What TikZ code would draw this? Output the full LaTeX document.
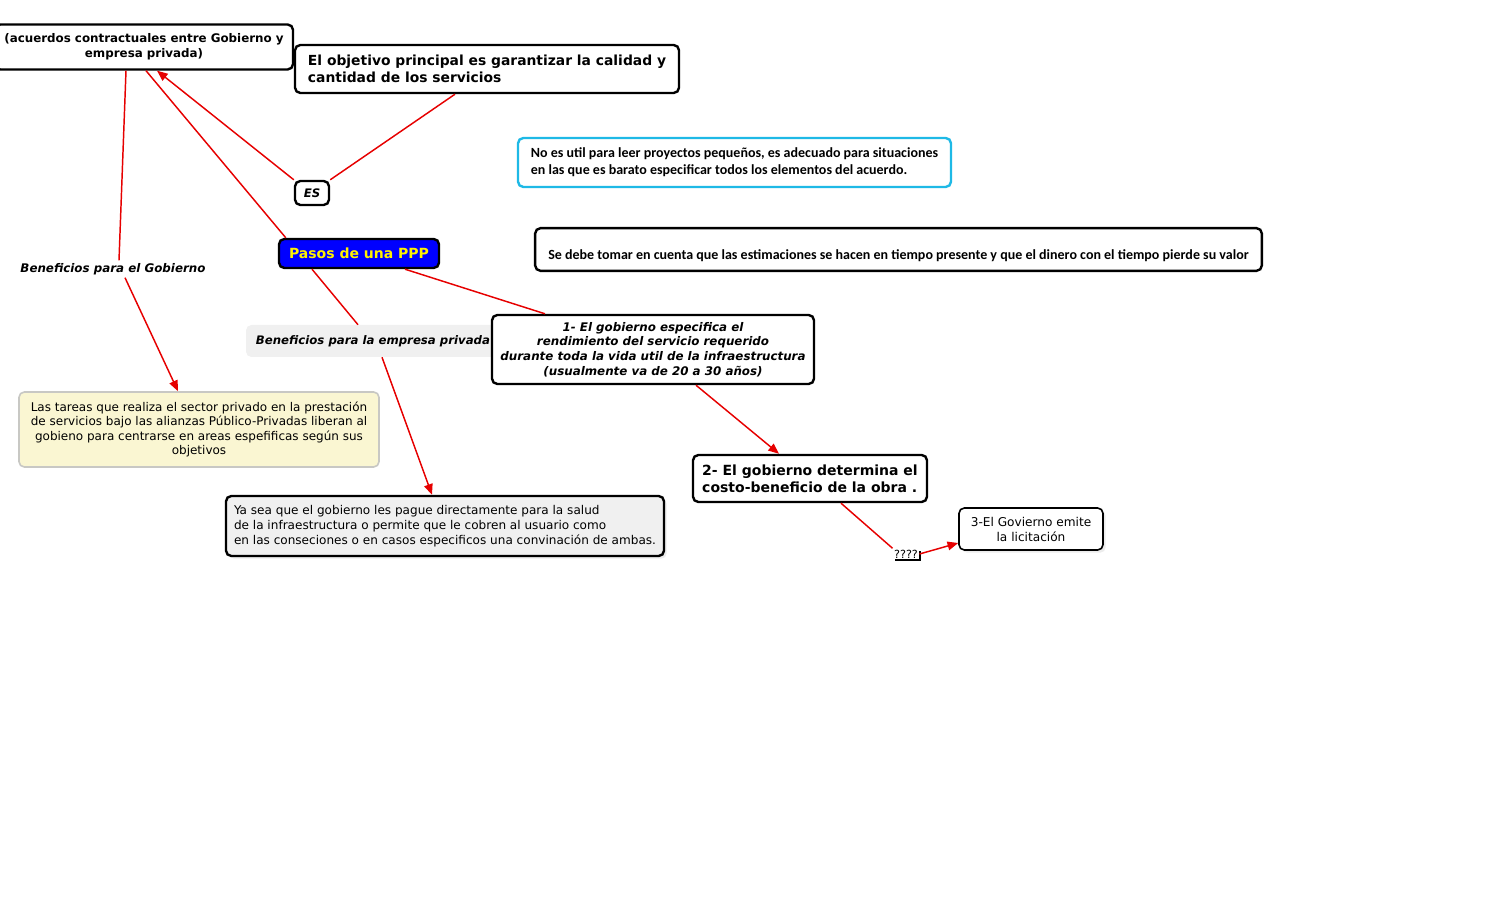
\documentclass[tikz,border=0pt]{standalone}
\usepackage{fontspec}
\usepackage{xcolor}
\usepackage{tikz}
\usetikzlibrary{arrows.meta,shadows}
\setmainfont{DejaVu Sans}
\newfontfamily\calfont{Carlito}

\definecolor{linkred}{RGB}{230,0,0}
\definecolor{skyline}{RGB}{30,185,230}
\definecolor{noteyellow}{RGB}{250,246,210}
\definecolor{notegray}{RGB}{200,200,196}
\definecolor{softgray}{RGB}{240,240,240}

\tikzset{
  box/.style={draw, line width=1.8pt, rounded corners=4pt, fill=white, inner sep=3pt},
  link/.style={draw=linkred, line width=1.1pt},
  arrow/.style={link, -{Triangle[length=8pt,width=6.5pt]}, linkred},
}

\begin{document}
\begin{tikzpicture}[x=0.75pt,y=-0.75pt]
\useasboundingbox (0,0) rectangle (1510,923);

%Shape: Rounded Rect [acuerdos]
\node (acuerdos) [box, minimum width=223.5pt, minimum height=33.75pt, align=center,
  font=\fontsize{8.9}{11.25}\selectfont\bfseries] at (144,47)
  {(acuerdos contractuales entre Gobierno y\\empresa privada)};
%Shape: Rounded Rect [objetivo]
\node (objetivo) [box, minimum width=288pt, minimum height=36pt, align=left,
  font=\fontsize{10.4}{12.75}\selectfont\bfseries] at (487,69)
  {El objetivo principal es garantizar la calidad y\\cantidad de los servicios};
%Shape: Rounded Rect [es]
\node (es) [box, minimum width=25.5pt, minimum height=18pt, inner sep=1pt,
  font=\fontsize{8.8}{10}\selectfont\bfseries\itshape] at (312,193) {ES};
%Shape: Rounded Rect [pequenos]
\node (pequenos) [box, draw=skyline, minimum width=324.75pt, minimum height=36.75pt, align=left,
  font=\calfont\fontsize{10.5}{12.75}\selectfont\bfseries] at (734.5,162.5)
  {No es util para leer proyectos pequeños, es adecuado para situaciones\\en las que es barato especificar todos los elementos del acuerdo.};
%Shape: Rounded Rect [estimaciones]
\node (estimaciones) [box, minimum width=545pt, minimum height=32pt, text height=15pt, text depth=0pt,
  font=\calfont\fontsize{10.5}{12}\selectfont\bfseries] at (898.5,249.5)
  {Se debe tomar en cuenta que las estimaciones se hacen en tiempo presente y que el dinero con el tiempo pierde su valor};
%Shape: Rounded Rect [pasos]
\node (pasos) [box, fill=blue, text=yellow, minimum width=120pt, minimum height=21.75pt,
  font=\fontsize{10.5}{12}\selectfont\bfseries] at (359,253.5) {Pasos de una PPP};

% Text Node
\node (bengob) [inner sep=2pt, font=\fontsize{8.9}{10}\selectfont\bfseries\itshape] at (113,269)
  {Beneficios para el Gobierno};
% Text Node
\node (benemp) [fill=softgray, rounded corners=4pt, minimum width=190.5pt, minimum height=24pt,
  font=\fontsize{8.8}{10}\selectfont\bfseries\itshape] at (373,341)
  {Beneficios para la empresa privada};

%Shape: Rounded Rect [paso1]
\node (paso1) [box, minimum width=241.5pt, minimum height=51.75pt, align=center, inner xsep=0pt,
  font=\fontsize{8.9}{10.9}\selectfont\bfseries\itshape] at (653,349.5)
  {1- El gobierno especifica el\\rendimiento del servicio requerido\\durante toda la vida util de la infraestructura\\(usualmente va de 20 a 30 años)};
%Shape: Rounded Rect [tareas]
\node (tareas) [box, draw=notegray, fill=noteyellow, line width=1.2pt, minimum width=270pt,
  minimum height=56.25pt, align=center, font=\fontsize{9}{10.9}\selectfont] at (199,429.5)
  {Las tareas que realiza el sector privado en la prestación\\de servicios bajo las alianzas Público-Privadas liberan al\\gobieno para centrarse en areas espefificas según sus\\objetivos};
%Shape: Rounded Rect [yasea]
\node (yasea) [box, fill=softgray, minimum width=328.5pt, minimum height=45pt, align=left,
  drop shadow={opacity=0.15, shadow xshift=2pt, shadow yshift=-2pt},
  font=\fontsize{9.05}{11.25}\selectfont] at (445,526)
  {Ya sea que el gobierno les pague directamente para la salud\\de la infraestructura o permite que le cobren al usuario como\\en las conseciones o en casos especificos una convinación de ambas.};
%Shape: Rounded Rect [paso2]
\node (paso2) [box, minimum width=175.5pt, minimum height=35.25pt, align=left,
  font=\fontsize{10.5}{12.75}\selectfont\bfseries] at (810,478.5)
  {2- El gobierno determina el\\costo-beneficio de la obra .};
% Text Node
\node (duda) [fill=white, inner sep=1pt, font=\fontsize{8.4}{9}\selectfont,
  drop shadow={fill=black, opacity=1, shadow xshift=1.5pt, shadow yshift=-1.5pt}] at (906,554) {????};
%Shape: Rounded Rect [paso3]
\node (paso3) [box, line width=1.2pt, minimum width=108pt, minimum height=31.5pt, align=center,
  drop shadow={opacity=0.15, shadow xshift=2pt, shadow yshift=-2pt},
  font=\fontsize{9.1}{11.25}\selectfont] at (1031,529)
  {3-El Govierno emite\\la licitación};

%Straight Lines
\draw [link] ([xshift=-13.5pt]acuerdos.south) -- ([xshift=4.5pt]bengob.north);
\draw [arrow] ([xshift=9pt]bengob.south) -- ([xshift=-15.75pt]tareas.north);
\draw [link] ([xshift=1.5pt]acuerdos.south) -- ([xshift=6pt]pasos.north west);
\draw [link] ([xshift=-35.25pt]pasos.south) -- ([xshift=-11.25pt]benemp.north);
\draw [arrow] ([xshift=6.75pt]benemp.south) -- ([xshift=-9.75pt]yasea.north);
\draw [arrow] (es.north west) -- ([xshift=9.75pt]acuerdos.south);
\draw [link] ([xshift=-24pt]objetivo.south) -- (es.north east);
\draw [link] ([xshift=34.5pt]pasos.south) -- ([xshift=-81pt]paso1.north);
\draw [arrow] ([xshift=32.25pt]paso1.south) -- ([xshift=-23.25pt]paso2.north);
\draw [link] ([xshift=23.25pt]paso2.south) -- (duda.north west);
\draw [arrow] (duda.east) -- ([yshift=-10.5pt]paso3.west);

\end{tikzpicture}
\end{document}
